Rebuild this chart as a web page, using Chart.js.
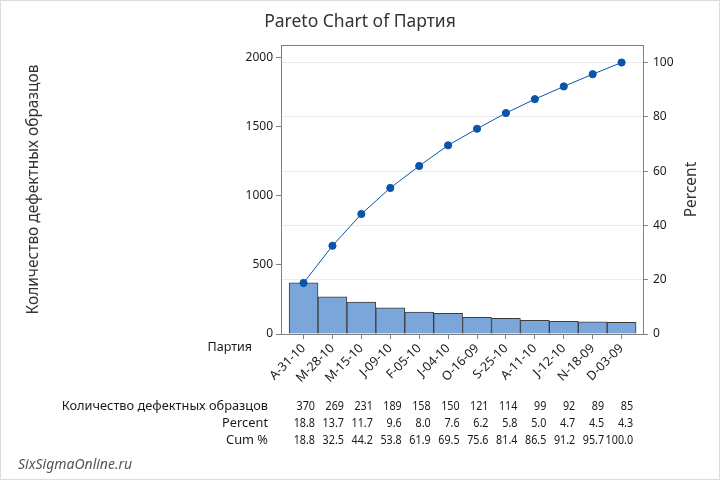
<!DOCTYPE html>
<html>
<head>
<meta charset="utf-8">
<script src="https://cdn.jsdelivr.net/npm/chart.js@4"></script>
<style>
  html, body { margin: 0; padding: 0; background: #fff; }
  #wrap { width: 720px; height: 480px; }
</style>
</head>
<body>
<div id="wrap"><canvas id="pareto" width="720" height="480"></canvas></div>
<script>
const categories = ['A-31-10', 'M-28-10', 'M-15-10', 'J-09-10', 'F-05-10', 'J-04-10', 'O-16-09', 'S-25-10', 'A-11-10', 'J-12-10', 'N-18-09', 'D-03-09'];
const counts = [370, 269, 231, 189, 158, 150, 121, 114, 99, 92, 89, 85];
const percents = [18.8, 13.7, 11.7, 9.6, 8.0, 7.6, 6.2, 5.8, 5.0, 4.7, 4.5, 4.3];
const cumPercents = [18.8, 32.5, 44.2, 53.8, 61.9, 69.5, 75.6, 81.4, 86.5, 91.2, 95.7, 100.0];
const countTicks = [0, 500, 1000, 1500, 2000];
const percentTicks = [0, 20, 40, 60, 80, 100];
const rowLabels = ['Количество дефектных образцов', 'Percent', 'Cum %'];

const FONT = '"Noto Sans", "Open Sans", sans-serif';
const TEXT = '#1a1a1a';
const AXIS = '#808080';

let total = counts.reduce((a, b) => a + b, 0);
let countMax = 2094;

// title, right axis label, table under the x axis, watermark
const extras = {
    id: 'extras',
    afterDraw(chart) {
        const c = chart.ctx;
        const area = chart.chartArea;
        const x = chart.scales.x;
        c.save();

        // top edge of the plot frame
        c.strokeStyle = AXIS;
        c.lineWidth = 1;
        c.beginPath();
        c.moveTo(area.left, area.top + 0.5);
        c.lineTo(area.right, area.top + 0.5);
        c.stroke();

        c.fillStyle = '#333';
        c.textAlign = 'center';
        c.textBaseline = 'middle';
        c.font = '17.5px ' + FONT;
        c.fillText('Pareto Chart of Партия', 360, 22);

        c.save();
        c.translate(692, (area.top + area.bottom) / 2);
        c.rotate(-Math.PI / 2);
        c.font = '15.5px ' + FONT;
        c.fillText('Percent', 0, 0);
        c.restore();

        c.fillStyle = TEXT;
        c.font = '12.5px ' + FONT;
        c.textAlign = 'right';
        c.fillText('Партия', 252, 347);

        let rows = [counts.map(String), percents.map(v => v.toFixed(1)), cumPercents.map(v => v.toFixed(1))];
        let rowY = [406, 423, 440];
        rows.forEach((row, r) => {
            c.font = '12.8px ' + FONT;
            c.fillText(rowLabels[r], 268, rowY[r]);
            c.font = '12.5px ' + FONT;
            row.forEach((txt, i) => {
                // numbers in the source are set a bit narrower
                c.save();
                c.translate(x.getPixelForValue(i + 0.5) - 3, rowY[r]);
                c.scale(0.86, 1);
                c.fillText(txt, 0, 0);
                c.restore();
            });
        });

        c.textAlign = 'left';
        c.fillStyle = '#555';
        c.font = 'italic 14px ' + FONT;
        c.fillText('SixSigmaOnline.ru', 18, 465);

        c.strokeStyle = '#dcdcdc';
        c.strokeRect(0.5, 0.5, 719, 479);
        c.restore();
    }
};

const ctx = document.getElementById('pareto').getContext('2d');
const paretoChart = new Chart(ctx, {
    type: 'bar',
    data: {
        datasets: [{
            type: 'line',
            label: 'Cum %',
            data: cumPercents.map((v, i) => ({ x: i, y: v })),
            yAxisID: 'y1',
            borderColor: '#0b55a8',
            borderWidth: 1,
            pointRadius: 3.6,
            pointBackgroundColor: '#0b55a8',
            pointBorderColor: '#0b55a8',
            tension: 0,
            order: 0,
        }, {
            label: 'Количество',
            data: counts.map((v, i) => ({ x: i, y: v })),
            yAxisID: 'y',
            backgroundColor: '#7ba6da',
            borderColor: '#3c3c3c',
            borderWidth: 1,
            barPercentage: 1,
            categoryPercentage: 1,
            order: 1,
        }]
    },
    options: {
        responsive: false,
        animation: false,
        devicePixelRatio: 1,
        layout: { padding: { top: 45, left: 0, right: 0, bottom: 0 } },
        scales: {
            x: {
                type: 'linear',
                offset: false,
                min: -0.78,
                max: 11.74,
                afterBuildTicks: s => { s.ticks = categories.map((c, i) => ({ value: i })); },
                afterFit: s => { s.height = 146; },
                ticks: {
                    autoSkip: false,
                    minRotation: 45,
                    maxRotation: 45,
                    padding: 2,
                    color: TEXT,
                    font: { family: FONT, size: 12.5 },
                    callback: v => categories[v],
                },
                grid: { offset: false, drawOnChartArea: false, tickLength: 5, tickColor: AXIS },
                border: { color: AXIS },
            },
            y: {
                position: 'left',
                min: 0,
                max: countMax,
                afterBuildTicks: s => { s.ticks = countTicks.map(v => ({ value: v })); },
                afterFit: s => { s.width = 281; },
                ticks: { padding: 3, color: TEXT, font: { family: FONT, size: 12 }, callback: v => String(v) },
                grid: { drawOnChartArea: false, tickLength: 5, tickColor: AXIS },
                border: { color: AXIS },
                title: {
                    display: true,
                    text: 'Количество дефектных образцов',
                    color: '#333',
                    font: { family: FONT, size: 15.5 },
                    padding: { top: 24, bottom: 0 },
                },
            },
            y1: {
                position: 'right',
                min: 0,
                max: countMax / total * 100,
                afterBuildTicks: s => { s.ticks = percentTicks.map(v => ({ value: v })); },
                afterFit: s => { s.width = 77; },
                ticks: { padding: 5, color: TEXT, font: { family: FONT, size: 12 }, callback: v => String(v) },
                grid: { color: '#ececec', tickLength: 5, tickColor: AXIS },
                border: { color: AXIS },
            }
        },
        plugins: {
            legend: { display: false },
            tooltip: { enabled: false },
        }
    },
    plugins: [extras]
});
</script>
</body>
</html>
